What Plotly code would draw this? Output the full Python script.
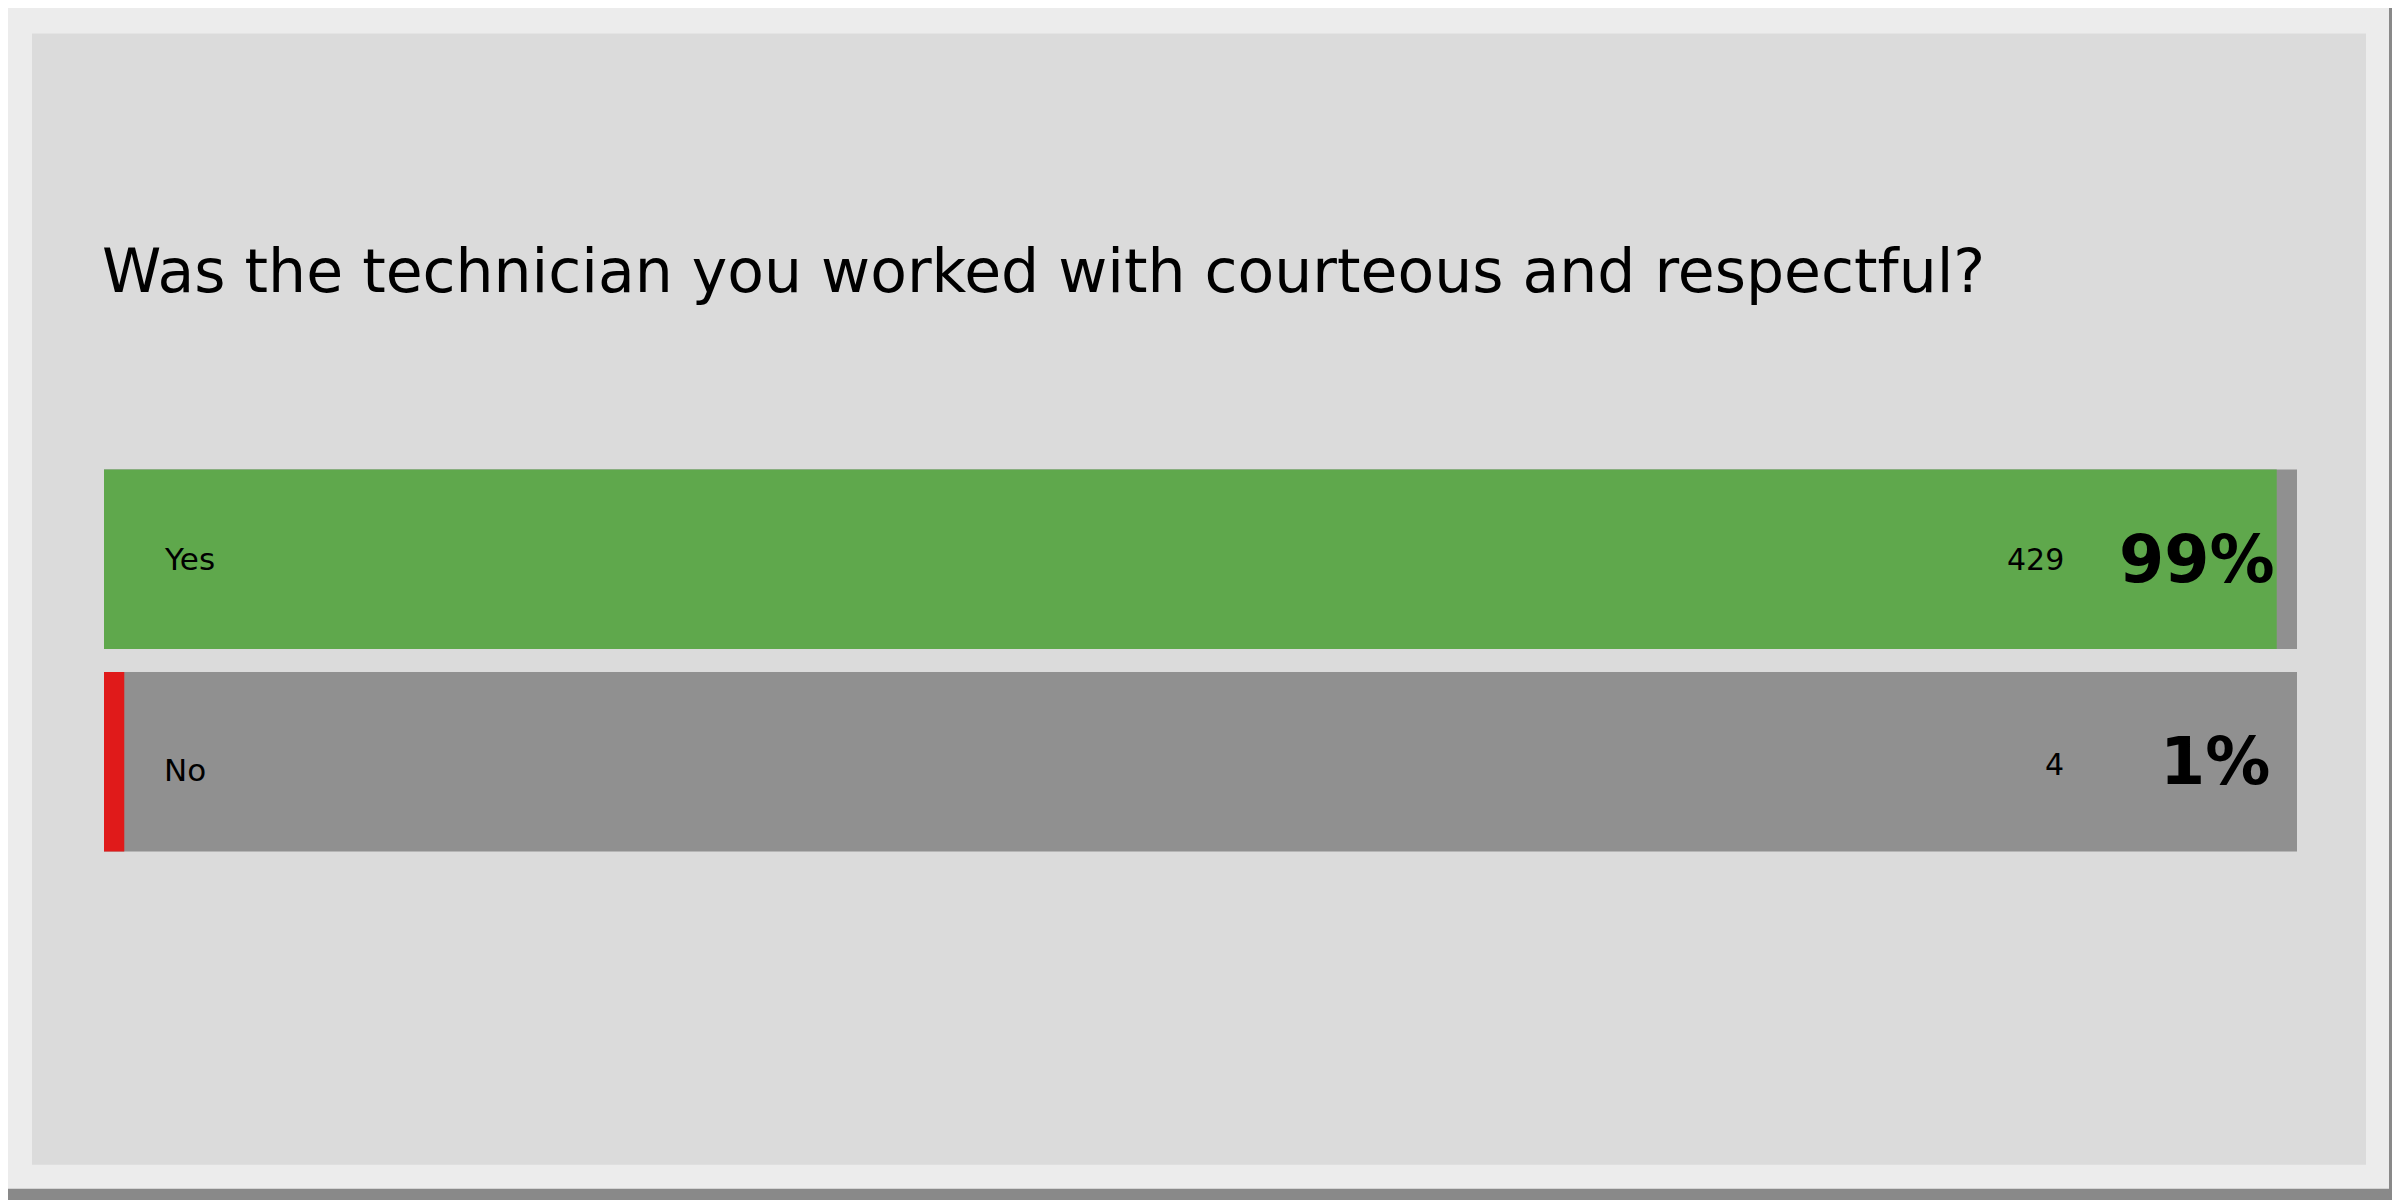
import plotly.graph_objects as go

# Survey answers
question = 'Was the technician you worked with courteous and respectful?'
answers = ['Yes', 'No']
counts = [429, 4]
bar_colors = ['#5fa84c', '#e01a1a']

total = sum(counts)
percents = [f'{round(c / total * 100)}%' for c in counts]

# page body adds an 8px margin, so the figure is a bit smaller than the window
W, H = 2392, 1192
font = 'DejaVu Sans'

fig = go.Figure()

# grey track behind each answer
fig.add_trace(go.Bar(
    y=answers, x=[total] * len(answers), orientation='h',
    marker=dict(color='#909090', line=dict(width=0)),
    hoverinfo='skip', showlegend=False
))

# answer share
fig.add_trace(go.Bar(
    y=answers, x=counts, orientation='h',
    marker=dict(color=bar_colors, line=dict(width=0)),
    hoverinfo='skip', showlegend=False
))

l, r = 96, 103
t, b = 449.5, 336.5


def px(x):
    return (x - l) / (W - l - r)


def py(y):
    return 1 - (y - t) / (H - t - b)


annotations = []
for i, ans in enumerate(answers):
    shift = -8 if i else 0
    annotations.append(dict(x=0, y=ans, xref='x', yref='y', text=ans,
                            xanchor='left', yanchor='middle', xshift=58, yshift=shift,
                            showarrow=False, font=dict(family=font, size=31, color='black')))
    annotations.append(dict(x=total, y=ans, xref='x', yref='y', text=str(counts[i]),
                            xanchor='right', yanchor='middle', xshift=-231, yshift=-3 * i,
                            showarrow=False, font=dict(family=font, size=30, color='black')))
    annotations.append(dict(x=total, y=ans, xref='x', yref='y', text=f'<b>{percents[i]}</b>',
                            xanchor='right', yanchor='middle', xshift=-20 - 5 * i,
                            showarrow=False, font=dict(family=font, size=65, color='black')))

# question text
annotations.append(dict(x=px(92), y=py(262), xref='paper', yref='paper', text=question,
                        xanchor='left', yanchor='middle', showarrow=False,
                        font=dict(family=font, size=60, color='black')))

shapes = [
    dict(type='rect', xref='paper', yref='paper', layer='below',
         x0=px(-5), x1=px(2381), y0=py(-5), y1=py(1182),
         fillcolor='#ececec', line=dict(width=0)),
    dict(type='rect', xref='paper', yref='paper', layer='below',
         x0=px(24), x1=px(2358), y0=py(24), y1=py(1158),
         fillcolor='#dbdbdb', line=dict(width=0)),
]

fig.update_layout(
    width=W, height=H,
    margin=dict(l=l, r=r, t=t, b=b, pad=0),
    paper_bgcolor='#898989',
    plot_bgcolor='rgba(0,0,0,0)',
    barmode='overlay',
    bargap=0.113,
    xaxis=dict(range=[0, total], visible=False, fixedrange=True),
    yaxis=dict(autorange='reversed', visible=False, fixedrange=True),
    shapes=shapes,
    annotations=annotations,
    font=dict(family=font),
)

fig.write_html('out.html')
